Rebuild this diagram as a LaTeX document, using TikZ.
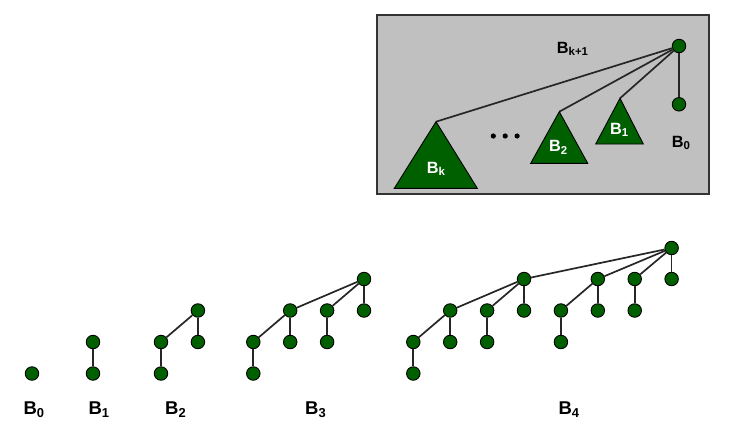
\documentclass[tikz,border=0pt]{standalone}
\usepackage{fontspec}
\setmainfont{Liberation Sans}

\begin{document}
\begin{tikzpicture}[
  x=1pt, y=-1pt,
  vert/.style={circle, draw=black, line width=.9pt, fill=heapgreen,
    minimum size=13.5pt, inner sep=0pt},
  link/.style={line width=1.7pt, draw=black!85},
  subtree/.style={fill=heapgreen, draw=black, line width=.9pt},
  treename/.style={anchor=base west, inner sep=0pt,
    font=\bfseries\fontsize{18.5}{20}\selectfont},
  boxname/.style={anchor=base west, inner sep=0pt,
    font=\bfseries\fontsize{16.3}{18}\selectfont}
]

\definecolor{heapgreen}{RGB}{0,96,0}
\definecolor{panel}{RGB}{192,192,192}

\useasboundingbox (0,0) rectangle (735,429);

% Recursive shape of B_{k+1}
\fill[panel] (377,15) rectangle (709,194);
\draw[black!80,line width=1.3pt] (377,15) rectangle (709,194);

\node[vert] (top) at (679,46) {};
\node[vert] (leaf) at (679,104.3) {};
\draw[link] (top) -- (leaf);

\coordinate (apk) at (436,121.7);
\coordinate (ap2) at (559.3,111.7);
\coordinate (ap1) at (620,98.3);
\draw[link] (top) -- (apk);
\draw[link] (top) -- (ap2);
\draw[link] (top) -- (ap1);

\filldraw[subtree] (apk) -- (394.3,188.3) -- (477.3,188.3) -- cycle;
\filldraw[subtree] (ap2) -- (530.7,163.3) -- (587.7,163.3) -- cycle;
\filldraw[subtree] (ap1) -- (595.7,144) -- (643.3,144) -- cycle;

\foreach \dx in {493.3,505.2,517.1}
  \fill[black] (\dx,136) circle (2.6);

\node[boxname] (nk1) at (556.7,53.3) {B\textsubscript{k+1}};
\node[boxname] (n0) at (671.7,147.3) {B\textsubscript{0}};
\node[boxname,text=white] (nk) at (426.7,173.3) {B\textsubscript{k}};
\node[boxname,text=white] (n2) at (549,151.7) {B\textsubscript{2}};
\node[boxname,text=white] (n1) at (610,134) {B\textsubscript{1}};

% B0 and B1
\node[vert] (a0) at (32,373.5) {};
\node[vert] (b0) at (93,342) {};
\node[vert] (b1) at (93,373.5) {};
\draw[link] (b0) -- (b1);

% B2
\foreach \n/\x/\y in {0/197.9/310.5, 1/161/342, 2/197.9/342, 3/161/373.5}
  \node[vert] (c\n) at (\x,\y) {};
\foreach \p/\c in {0/1, 0/2, 1/3}
  \draw[link] (c\p) -- (c\c);

% B3
\foreach \n/\x/\y in {0/364/279, 1/290.2/310.5, 2/327.1/310.5, 3/364/310.5,
    4/253.3/342, 5/290.2/342, 6/327.1/342, 7/253.3/373.5}
  \node[vert] (d\n) at (\x,\y) {};
\foreach \p/\c in {0/1, 0/2, 0/3, 1/4, 1/5, 2/6, 4/7}
  \draw[link] (d\p) -- (d\c);

% B4
\foreach \n/\x/\y in {0/671.6/248, 1/524/279, 2/597.8/279, 3/634.7/279,
    4/671.6/279, 5/450.2/310.5, 6/487.1/310.5, 7/524/310.5, 8/560.9/310.5,
    9/597.8/310.5, 10/634.7/310.5, 11/413.3/342, 12/450.2/342,
    13/487.1/342, 14/560.9/342, 15/413.3/373.5}
  \node[vert] (e\n) at (\x,\y) {};
\foreach \p/\c in {0/1, 0/2, 0/3, 0/4, 1/5, 1/6, 1/7, 2/8, 2/9, 3/10,
    5/11, 5/12, 6/13, 8/14, 11/15}
  \draw[link] (e\p) -- (e\c);

% names under the trees
\node[treename] (t0) at (23.3,414.3) {B\textsubscript{0}};
\node[treename] (t1) at (88.3,414.3) {B\textsubscript{1}};
\node[treename] (t2) at (165,414.3) {B\textsubscript{2}};
\node[treename] (t3) at (305,414.3) {B\textsubscript{3}};
\node[treename] (t4) at (558.3,414.3) {B\textsubscript{4}};

\end{tikzpicture}
\end{document}
